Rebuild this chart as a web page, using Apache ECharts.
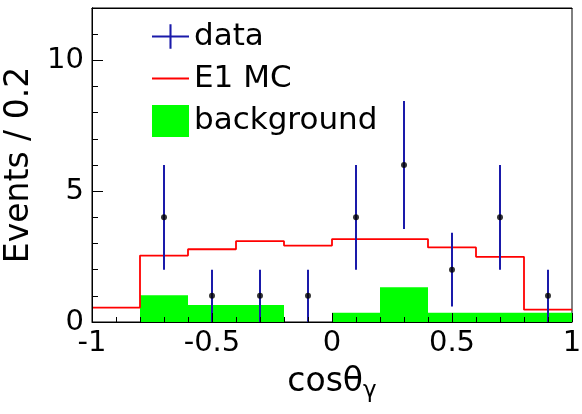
<!DOCTYPE html>
<html>
<head>
<meta charset="utf-8">
<script src="https://cdn.jsdelivr.net/npm/echarts@6/dist/echarts.min.js"></script>
<style>html,body{margin:0;padding:0;background:#fff;}#c{width:582px;height:414px;}</style>
</head>
<body>
<div id="c"></div>
<script>
// Bin edges of the histograms
var binEdges = [-1, -0.8, -0.6, -0.4, -0.2, 0, 0.2, 0.4, 0.6, 0.8, 1];
// E1 MC histogram contents per bin
var mcValues = [0.55, 2.54, 2.78, 3.09, 2.92, 3.17, 3.17, 2.85, 2.49, 0.47];
// background histogram contents per bin
var bkgValues = [0, 1.02, 0.65, 0.65, 0, 0.35, 1.33, 0.35, 0.35, 0.35];
// data points
var dataX = [-0.7, -0.5, -0.3, -0.1, 0.1, 0.3, 0.5, 0.7, 0.9];
var dataY = [4, 1, 1, 1, 4, 6, 2, 4, 1];
var dataErr = [2, 1, 1, 1, 2, 2.45, 1.41, 2, 1];
// tick labels
var xTicks = ['-1', '-0.5', '0', '0.5', '1'];
var yTicks = ['0', '5', '10'];

var FONT = 'DejaVu Sans';
var BLUE = '#1a1aaa';

function histPoints(vals) {
  var pts = [];
  for (var i = 0; i < vals.length; i++) pts.push([binEdges[i], vals[i]]);
  pts.push([binEdges[binEdges.length - 1], vals[vals.length - 1]]);
  return pts;
}
var errData = dataX.map(function (x, i) {
  return [x, dataY[i], dataY[i] - dataErr[i], dataY[i] + dataErr[i]];
});
var ptData = dataX.map(function (x, i) { return [x, dataY[i]]; });

var chart = echarts.init(document.getElementById('c'), null, {renderer: 'canvas'});
var black = '#000';
chart.setOption({
  animation: false,
  backgroundColor: '#fff',
  grid: {left: 92, right: 10, top: 8, bottom: 92, containLabel: false, outerBoundsMode: 'none',
    show: true, borderColor: black, borderWidth: 1, backgroundColor: 'transparent'},
  legend: {
    left: 152, top: 21, padding: 0, orient: 'vertical',
    itemWidth: 37, itemHeight: 32, itemGap: 11,
    textStyle: {fontFamily: FONT, fontSize: 31, color: black},
    selectedMode: false,
    data: [
      {name: 'data', icon: 'path://M0,11 L36,11 L36,13 L0,13 Z M17,0 L19,0 L19,24 L17,24 Z', itemStyle: {color: BLUE, borderWidth: 0}},
      {name: 'E1 MC', icon: 'path://M0,0 L36,0 L36,2 L0,2 Z', itemStyle: {color: '#ff0000', borderWidth: 0}},
      {name: 'background', icon: 'rect', itemStyle: {color: '#00ff00', borderWidth: 0}}
    ]
  },
  xAxis: [{
    type: 'value', min: -1, max: 1, interval: 0.5, position: 'bottom', z: 10,
    axisLine: {show: true, onZero: false, lineStyle: {color: black, width: 1}},
    axisTick: {show: true, inside: true, length: 9, lineStyle: {color: black}},
    minorTick: {show: true, splitNumber: 5, length: 5, lineStyle: {color: black}},
    splitLine: {show: false},
    axisLabel: {
      color: black, fontFamily: FONT, fontSize: 29, margin: 7, showMinLabel: true, showMaxLabel: true,
      formatter: function (v) { var i = Math.round((v + 1) / 0.5); return xTicks[i]; }
    },
    name: 'cosθ{g|γ}', nameLocation: 'middle', nameGap: 40,
    nameTextStyle: {color: black, fontFamily: FONT, fontSize: 33,
      rich: {g: {fontFamily: FONT, fontSize: 23, color: black, padding: [18, 0, 0, 0]}}}
  }, {
    type: 'value', min: -1, max: 1, position: 'top', z: 10,
    axisLine: {show: true, onZero: false, lineStyle: {color: black, width: 1}},
    axisTick: {show: false}, axisLabel: {show: false}, splitLine: {show: false}
  }],
  yAxis: [{
    type: 'value', min: 0, max: 12, interval: 5, position: 'left', z: 10,
    axisLine: {show: true, onZero: false, lineStyle: {color: black, width: 1}},
    axisTick: {show: true, inside: true, length: 11, lineStyle: {color: black}},
    splitLine: {show: false},
    axisLabel: {
      color: black, fontFamily: FONT, fontSize: 29, margin: 8, showMaxLabel: false,
      formatter: function (v) { var i = Math.round(v / 5); return yTicks[i] !== undefined ? yTicks[i] : ''; }
    },
    name: 'Events / 0.2', nameLocation: 'middle', nameGap: 44, nameRotate: 90,
    nameTextStyle: {color: black, fontFamily: FONT, fontSize: 33}
  }, {
    type: 'value', min: 0, max: 12, interval: 1, position: 'right', offset: -480, z: 10,
    axisLine: {show: true, onZero: false, lineStyle: {color: black, width: 1}},
    axisTick: {show: true, inside: false, length: 6, lineStyle: {color: black}},
    axisLabel: {show: false}, splitLine: {show: false}
  }],
  series: [{
    name: 'background', type: 'line', step: 'end', symbol: 'none', z: 1,
    data: histPoints(bkgValues),
    lineStyle: {width: 0, color: '#00ff00'},
    itemStyle: {color: '#00ff00'},
    areaStyle: {color: '#00ff00', opacity: 1, origin: 0}
  }, {
    name: 'E1 MC', type: 'line', step: 'end', symbol: 'none', z: 3,
    data: histPoints(mcValues),
    lineStyle: {width: 1.8, color: '#ff0000'},
    itemStyle: {color: '#ff0000'}
  }, {
    name: 'data', type: 'custom', z: 4,
    data: errData,
    encode: {x: 0, y: [1, 2, 3]},
    itemStyle: {color: BLUE},
    renderItem: function (params, api) {
      var x = api.value(0);
      var p1 = api.coord([x, api.value(2)]);
      var p2 = api.coord([x, api.value(3)]);
      return {
        type: 'line',
        shape: {x1: p1[0], y1: p1[1], x2: p2[0], y2: p2[1]},
        style: {stroke: BLUE, lineWidth: 2}
      };
    }
  }, {
    name: 'dataPoints', type: 'scatter', z: 5,
    data: ptData, symbol: 'circle', symbolSize: 6,
    itemStyle: {color: '#000'}
  }]
});
</script>
</body>
</html>
